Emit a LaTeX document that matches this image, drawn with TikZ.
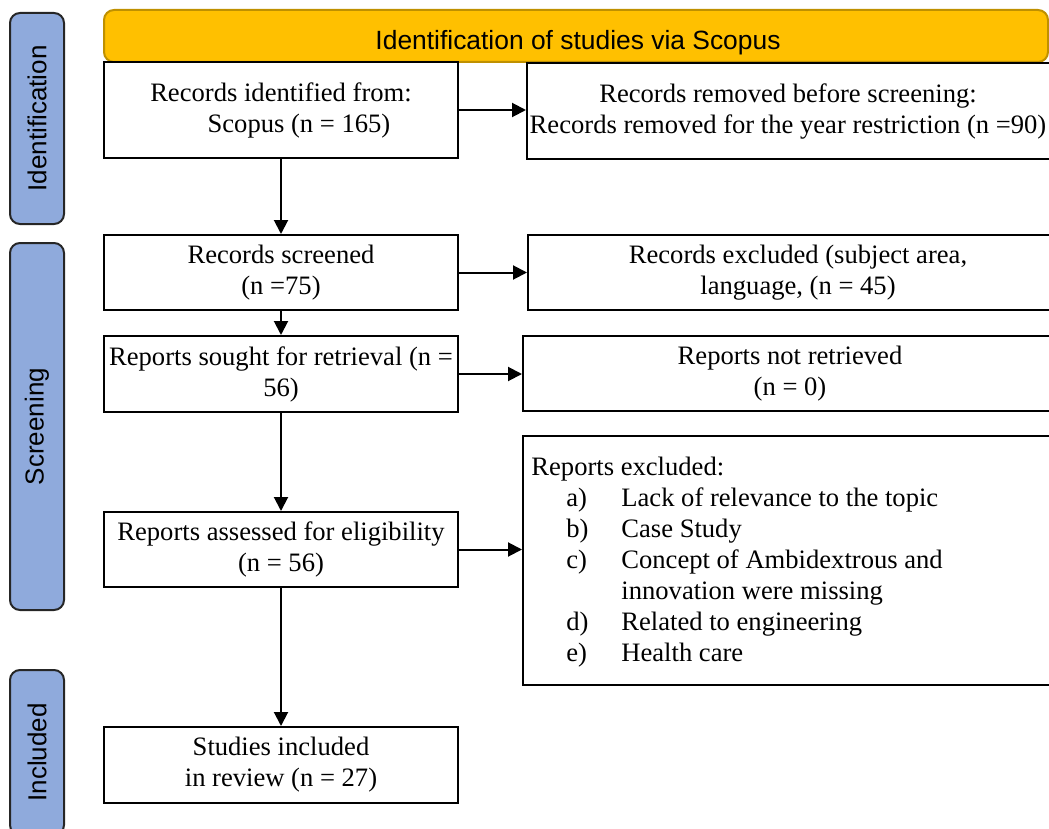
\documentclass[tikz,border=0pt]{standalone}
\usepackage{fontspec}
\setmainfont{Liberation Serif}
\newfontfamily\phasefont{Liberation Sans}
\usepackage{xcolor}
\usetikzlibrary{positioning,arrows.meta}

\definecolor{bannergold}{HTML}{FFC000}
\definecolor{bannerline}{HTML}{BF9000}
\definecolor{phaseblue}{HTML}{8FAADC}

\tikzset{
    stagebox/.style={draw, line width=1pt, fill=white, inner sep=0pt, align=center,
        minimum width=177pt, font=\fontsize{13.3}{15.5}\selectfont},
    sidebox/.style={draw, line width=1pt, fill=white, inner sep=0pt, minimum width=274pt},
    boxtext/.style={align=center, inner sep=0pt, font=\fontsize{13.3}{15.5}\selectfont},
    phase/.style={draw=black!85, line width=1pt, fill=phaseblue, rounded corners=5pt,
        rotate=90, minimum height=27pt, font=\phasefont\fontsize{13}{15}\selectfont},
    flow/.style={line width=1pt, -{Triangle[length=7pt,width=7pt]}}
}

\begin{document}
\begin{tikzpicture}[x=0.5pt,y=-0.5pt]
    \useasboundingbox (0,0) rectangle (1049,829);
    \clip (0,0) rectangle (1049,829);

    % Phase labels on the left
    \node[phase, minimum width=105.5pt] (idphase) at (37,118.5) {Identification};
    \node[phase, minimum width=183.5pt] (scrphase) at (37,426.5) {Screening};
    \node[phase, minimum width=82.5pt] (inphase) at (37,752.5) {Included};

    % Banner
    \node[draw=bannerline, fill=bannergold, line width=1pt, rounded corners=5pt,
        minimum width=472pt, minimum height=26pt] (banner) at (576,36) {};
    \node[font=\phasefont\fontsize{13.2}{15}\selectfont, inner sep=0pt] (bannertext) at (578,43)
        {Identification of studies via Scopus};

    % Main column
    \node[stagebox, minimum height=48pt] (identified) at (281,110)
        {Records identified from:\\ \hspace*{18pt}Scopus (n = 165)};
    \node[stagebox, minimum height=37.5pt] (screened) at (281,272.5)
        {Records screened\\ (n =75)};
    \node[stagebox, minimum height=38pt] (sought) at (281,374)
        {Reports sought for retrieval (n =\\ 56)};
    \node[stagebox, minimum height=37.5pt] (assessed) at (281,549.5)
        {Reports assessed for eligibility\\ (n = 56)};
    \node[stagebox, minimum height=38pt] (included) at (281,765)
        {Studies included\\ in review (n = 27)};

    % Side column
    \node[sidebox, anchor=west, minimum height=48pt] (removed) at (526,111) {};
    \node[boxtext] (removedtext) at (788,112)
        {Records removed before screening:\\ Records removed for the year restriction (n =90)};
    \node[sidebox, anchor=west, minimum height=37.5pt] (excluded) at (527,272.5) {};
    \node[boxtext] (excludedtext) at (798,273)
        {Records excluded (subject area,\\ language, (n = 45)};
    \node[sidebox, anchor=west, minimum height=37.5pt] (notretrieved) at (522,373.5) {};
    \node[boxtext] (notretrievedtext) at (790,374)
        {Reports not retrieved\\ (n = 0)};
    \node[sidebox, anchor=west, minimum height=124.5pt] (reportsout) at (522,560.5) {};
    \node[boxtext, anchor=west] (reportslist) at (531,562)
        {\begin{tabular}{@{\hspace{17.5pt}}p{27.5pt}@{}l@{}}
            \multicolumn{2}{@{}l@{}}{Reports excluded:}\\
            a) & Lack of relevance to the topic\\
            b) & Case Study\\
            c) & Concept of Ambidextrous and\\
               & innovation were missing\\
            d) & Related to engineering\\
            e) & Health care
        \end{tabular}};

    % Arrows
    \draw[flow] (identified) -- (screened);
    \draw[flow] (screened) -- (sought);
    \draw[flow] (sought) -- (assessed);
    \draw[flow] (assessed) -- (included);
    \draw[flow] (identified.east) -- (identified.east -| removed.west);
    \draw[flow] (screened.east) -- (screened.east -| excluded.west);
    \draw[flow] (sought.east) -- (sought.east -| notretrieved.west);
    \draw[flow] (assessed.east) -- (assessed.east -| reportsout.west);
\end{tikzpicture}
\end{document}
